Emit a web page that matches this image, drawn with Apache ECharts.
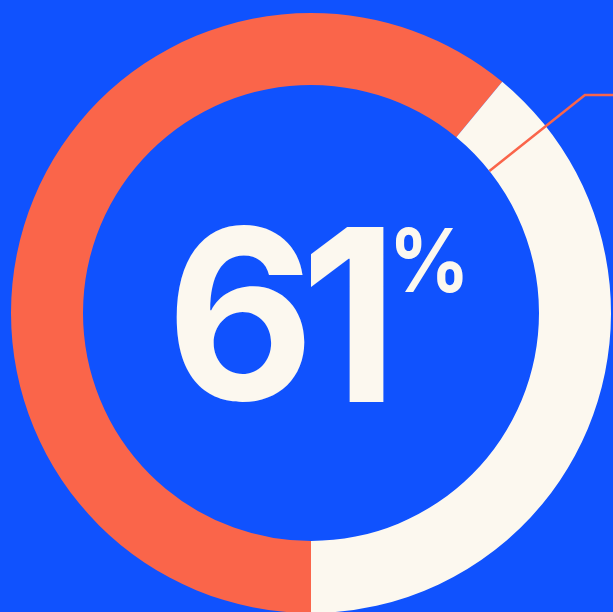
<!DOCTYPE html>
<html><head><meta charset="utf-8">
<script src="https://cdn.jsdelivr.net/npm/echarts@6/dist/echarts.min.js"></script>
<style>html,body{margin:0;padding:0;background:#1052FE;}#c{width:613px;height:612px;}</style>
</head><body><div id="c"></div>
<script>
const categories = ['Yes', 'No'];
const values = [61, 39];
const headline = '61';
const unit = '%';

const chart = echarts.init(document.getElementById('c'));
const cx = 311, cy = 313, rIn = 228, rOut = 300;
const ang = (90 - 51.5) * Math.PI / 180;
const p1 = [cx + rIn * Math.cos(ang), cy - rIn * Math.sin(ang)];
const p2 = [cx + 350 * Math.cos(ang), cy - 350 * Math.sin(ang)];
const family = 'Inter, "Noto Sans", sans-serif';
const cream = '#FCF8EF';

const ctx = document.createElement('canvas').getContext('2d');
ctx.textBaseline = 'middle';
ctx.textAlign = 'left';
function fit(ch, weight, box) {
  ctx.font = weight + ' 100px ' + family;
  let m = ctx.measureText(ch);
  const h = m.actualBoundingBoxAscent + m.actualBoundingBoxDescent;
  const size = (box.b - box.t) / h * 100;
  const font = weight + ' ' + size.toFixed(2) + 'px ' + family;
  ctx.font = font;
  m = ctx.measureText(ch);
  const inkL = -m.actualBoundingBoxLeft, inkR = m.actualBoundingBoxRight;
  const s = (box.r - box.l) / (inkR - inkL);
  return {
    type: 'text', z: 10,
    x: box.l - s * inkL, y: box.t + m.actualBoundingBoxAscent,
    scaleX: s,
    style: {x: 0, y: 0, text: ch, font: font, fill: cream, align: 'left', verticalAlign: 'middle'}
  };
}

chart.setOption({
  backgroundColor: '#1052FE',
  animation: false,
  series: [{
    type: 'pie',
    center: [cx, cy],
    radius: [rIn, rOut],
    startAngle: 270,
    clockwise: true,
    label: {show: false},
    labelLine: {show: false},
    emphasis: {disabled: true},
    itemStyle: {borderWidth: 0},
    data: categories.map((c, i) => ({name: c, value: values[i], itemStyle: {color: i === 0 ? '#FA654A' : cream}}))
  }],
  graphic: [
    {type: 'polyline', z: 10, shape: {points: [p1, p2, [640, p2[1]]]}, style: {stroke: '#FA654A', lineWidth: 2.5, fill: null}},
    fit(headline[0], 700, {l: 176, r: 305, t: 225, b: 403}),
    fit(headline[1], 700, {l: 310, r: 384, t: 227, b: 403}),
    fit(unit, 700, {l: 395, r: 463, t: 227, b: 293})
  ]
});
</script></body></html>
